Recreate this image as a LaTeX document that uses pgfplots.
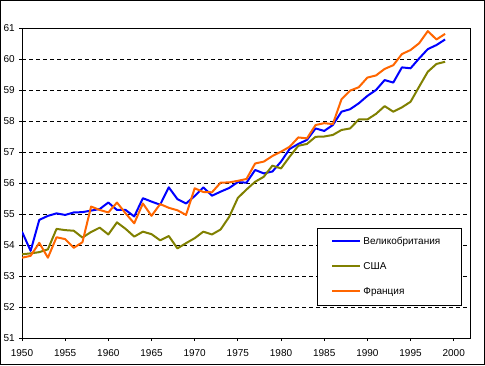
\documentclass[border=0pt]{standalone}
\usepackage{pgfplots}
\pgfplotsset{compat=1.18}
\usepackage{fontspec}
\setmainfont{Liberation Sans}
\definecolor{ukblue}{HTML}{0000FF}
\definecolor{usolive}{HTML}{808000}
\definecolor{frorange}{HTML}{FF6600}

\pgfplotstableread{
year uk
1950 54.43
1951 53.81
1952 54.81
1953 54.94
1954 55.02
1955 54.97
1956 55.05
1957 55.06
1958 55.11
1959 55.16
1960 55.37
1961 55.13
1962 55.13
1963 54.92
1964 55.51
1965 55.40
1966 55.30
1967 55.86
1968 55.48
1969 55.34
1970 55.58
1971 55.86
1972 55.59
1973 55.72
1974 55.84
1975 56.03
1976 56.01
1977 56.42
1978 56.31
1979 56.37
1980 56.69
1981 57.10
1982 57.26
1983 57.39
1984 57.76
1985 57.68
1986 57.87
1987 58.30
1988 58.38
1989 58.57
1990 58.81
1991 59.00
1992 59.32
1993 59.24
1994 59.73
1995 59.70
1996 60.02
1997 60.32
1998 60.45
1999 60.63
}\uktable

\pgfplotstableread{
year us
1950 53.70
1951 53.73
1952 53.77
1953 53.86
1954 54.52
1955 54.48
1956 54.46
1957 54.24
1958 54.42
1959 54.56
1960 54.34
1961 54.73
1962 54.52
1963 54.27
1964 54.43
1965 54.35
1966 54.15
1967 54.29
1968 53.89
1969 54.06
1970 54.22
1971 54.43
1972 54.34
1973 54.50
1974 54.91
1975 55.52
1976 55.79
1977 56.04
1978 56.20
1979 56.56
1980 56.47
1981 56.85
1982 57.20
1983 57.26
1984 57.49
1985 57.50
1986 57.55
1987 57.71
1988 57.76
1989 58.05
1990 58.05
1991 58.23
1992 58.48
1993 58.30
1994 58.44
1995 58.62
1996 59.11
1997 59.59
1998 59.84
1999 59.91
}\ustable

\pgfplotstableread{
year fr
1950 53.59
1951 53.65
1952 54.07
1953 53.59
1954 54.25
1955 54.19
1956 53.91
1957 54.09
1958 55.24
1959 55.13
1960 55.05
1961 55.37
1962 55.02
1963 54.70
1964 55.34
1965 54.94
1966 55.32
1967 55.20
1968 55.12
1969 54.97
1970 55.83
1971 55.71
1972 55.70
1973 56.01
1974 56.02
1975 56.07
1976 56.13
1977 56.63
1978 56.69
1979 56.87
1980 57.01
1981 57.17
1982 57.47
1983 57.44
1984 57.87
1985 57.93
1986 57.90
1987 58.70
1988 58.98
1989 59.09
1990 59.40
1991 59.47
1992 59.68
1993 59.80
1994 60.16
1995 60.29
1996 60.51
1997 60.90
1998 60.63
1999 60.81
}\frtable

\begin{document}
\fontsize{10}{12}\selectfont
\begin{tikzpicture}[x=1pt,y=1pt]
\useasboundingbox (0,0) rectangle (485,365);
\draw[line width=1pt, fill=white] (0.5,0.5) rectangle (484.5,364.5);
\begin{axis}[
  at={(22pt,27pt)}, anchor=south west,
  scale only axis, width=449pt, height=310pt,
  xmin=1950, xmax=2002, ymin=51, ymax=61,
  xtick={1950,1955,...,2000}, ytick={51,52,...,61},
  xtick pos=bottom, ytick pos=left,
  tick align=outside, major tick length=3pt,
  tick style={black, line width=1pt},
  axis line style={line width=1pt},
  ymajorgrids,
  grid style={black, line width=1pt, dash pattern=on 4pt off 3pt},
  font=\fontsize{10}{12}\selectfont,
  /pgf/number format/assume math mode=true,
  /pgf/number format/1000 sep={},
  xticklabel style={anchor=north, inner sep=0pt, yshift=-8pt},
  yticklabel style={anchor=east, inner sep=0pt, xshift=-4pt},
  legend cell align=left,
  legend style={at={(0.657,0.355)}, anchor=north west,
    draw=black, line width=1pt, fill=white,
    inner xsep=14pt, inner ysep=8.5pt, row sep=15pt,
    nodes={inner sep=0pt, text height=8pt, text depth=2pt, anchor=base west},
    /tikz/every odd column/.append style={column sep=2pt},
    /tikz/every even column/.append style={text width=84pt},
    font=\fontsize{10}{12}\selectfont},
  legend image code/.code={\draw[#1] (0pt,3.6pt) -- (28pt,3.6pt);},
]
\addplot[color=ukblue, line width=2pt, line join=round] table[x=year,y=uk] {\uktable};
\addlegendentry{Великобритания}
\addplot[color=usolive, line width=2pt, line join=round] table[x=year,y=us] {\ustable};
\addlegendentry{США}
\addplot[color=frorange, line width=2pt, line join=round] table[x=year,y=fr] {\frtable};
\addlegendentry{Франция}
\end{axis}
\end{tikzpicture}
\end{document}
